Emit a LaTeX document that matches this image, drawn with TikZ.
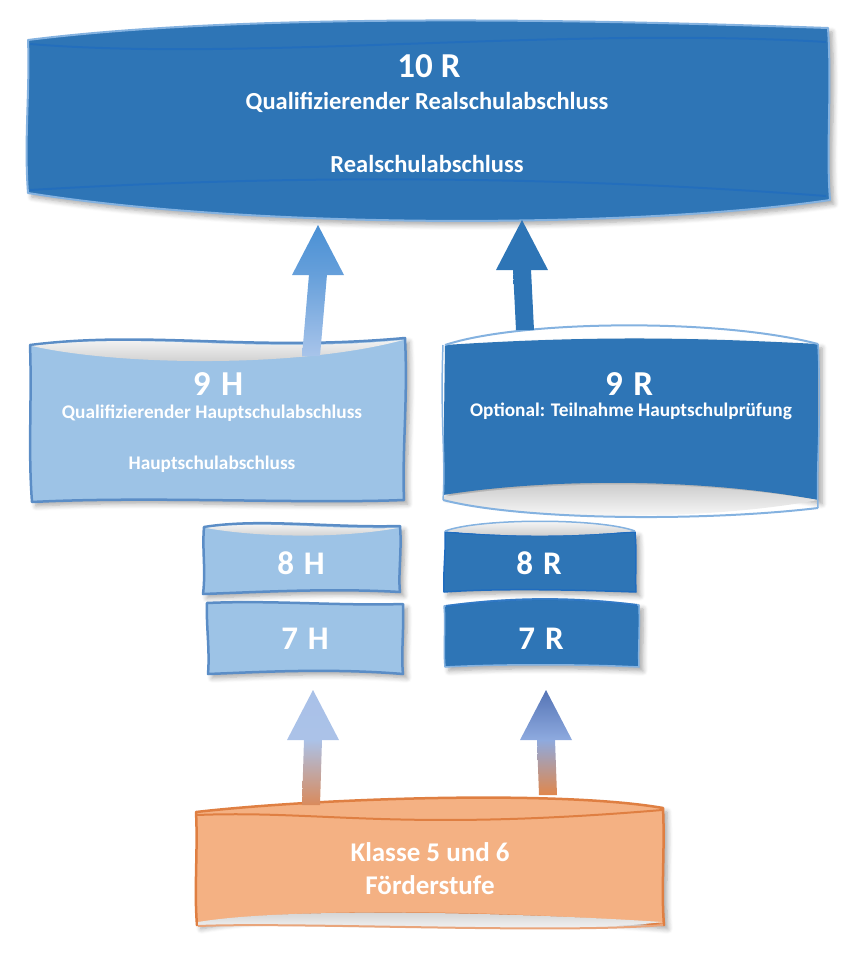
\documentclass[tikz,border=0pt]{standalone}
\usepackage{fontspec}
\setmainfont{Carlito}
\usetikzlibrary{calc,shadows.blur}
\definecolor{dblue}{HTML}{2E75B6}
\definecolor{dblueline}{HTML}{1F6CBF}
\definecolor{lblue}{HTML}{9DC3E6}
\definecolor{lblueedge}{HTML}{5B8DC6}
\definecolor{pedge}{HTML}{84B2E0}
\definecolor{orfill}{HTML}{F4B183}
\definecolor{oredge}{HTML}{DF7F42}
\definecolor{aupL}{HTML}{4A90D4}
\definecolor{alowL}{HTML}{A8C4EA}
\definecolor{aupR}{HTML}{2E75B6}
\definecolor{bupL}{HTML}{A9C1E8}
\definecolor{bmidL}{HTML}{ABC2E8}
\definecolor{bupR}{HTML}{5574B5}
\definecolor{bmidR}{HTML}{8EAADF}
\definecolor{borL}{HTML}{D98A5C}
\definecolor{borR}{HTML}{E0874C}
\tikzset{
  lab/.style={text=white, align=center, inner sep=0pt},
  bshadow/.style={blur shadow={shadow xshift=4pt, shadow yshift=-4pt, shadow blur steps=6, shadow opacity=35, shadow blur radius=5pt}},
  darkbox/.style={fill=dblue, draw=pedge, line width=2pt, line join=round},
  lightbox/.style={fill=lblue, draw=lblueedge, line width=2.5pt, line join=round},
  orbox/.style={fill=orfill, draw=oredge, line width=2.5pt, line join=round},
  lens/.style={top color=white, bottom color=black!22},
  lensup/.style={bottom color=white, top color=black!22},
  inner/.style={line width=2pt, draw opacity=0.7},
  bigt/.style={lab,font=\bfseries\fontsize{35}{40}\selectfont},
  midt/.style={lab,font=\bfseries\fontsize{19.3}{23}\selectfont},
}
% #1 start, #2 tip, #3 head top colour, #4 head base colour, #5 shaft bottom colour
\newcommand\blockarrow[5]{%
  \shade[top color=#4, bottom color=#5]
    ($(#2)+(9,49.5)$) -- ($(#1)+(9,0)$) -- ($(#1)+(-9,0)$) -- ($(#2)+(-9,49.5)$) -- cycle;
  \shade[top color=#3, bottom color=#4]
    (#2) -- ($(#2)+(26,50)$) -- ($(#2)+(-26,50)$) -- cycle;}
\begin{document}
\begin{tikzpicture}[x=1pt,y=-1pt]
\useasboundingbox (0,0) rectangle (864,974);

% ---------- 10 R ----------
\path[darkbox,bshadow] (28,40) .. controls (250,12) and (600,20) .. (828,28)
  .. controls (832,90) and (826,150) .. (830,200)
  .. controls (640,228) and (260,230) .. (28,193)
  .. controls (24,140) and (30,90) .. (28,40) -- cycle;
\draw[dblueline,inner] (30,44) .. controls (250,62) and (560,26) .. (826,42);
\draw[dblueline,inner] (30,190) .. controls (300,174) and (560,176) .. (826,196);
\node[bigt] (t10) at (429,66) {10 R};
\node[lab,font=\bfseries\fontsize{24.5}{28}\selectfont] (t10a) at (427,102) {Qualifizierender Realschulabschluss};
\node[lab,font=\bfseries\fontsize{24.5}{28}\selectfont] (t10b) at (427,164) {Realschulabschluss};

% ---------- 9 H ----------
\path[lightbox,bshadow] (30,345) .. controls (150,330) and (250,352) .. (405,338)
  .. controls (408,400) and (402,450) .. (404,500)
  .. controls (300,504) and (150,496) .. (32,502)
  .. controls (28,450) and (32,400) .. (30,345) -- cycle;
\shade[lens] (32,346) .. controls (150,332) and (250,354) .. (403,340)
  .. controls (300,368) and (120,366) .. (32,346) -- cycle;
\node[bigt] (t9h) at (218,384) {9\hspace{0.3em}H};
\node[midt] (t9ha) at (212,413) {Qualifizierender Hauptschulabschluss};
\node[midt] (t9hb) at (212,464) {Hauptschulabschluss};

% ---------- 9 R ----------
\path[bshadow,fill=dblue] (445,345) .. controls (600,335) and (700,338) .. (818,344)
  -- (818,500) .. controls (700,478) and (550,478) .. (443,495) -- cycle;
\draw[pedge,line width=2pt] (445,345) .. controls (520,320) and (720,318) .. (818,344);
\shade[lensup] (443,497) .. controls (550,480) and (700,480) .. (818,500)
  .. controls (700,522) and (520,520) .. (443,500) -- cycle;
\draw[pedge,line width=2pt] (443,500) .. controls (520,520) and (700,522) .. (818,508);
\draw[pedge,line width=1.5pt] (443,345) .. controls (440,420) and (446,460) .. (443,500);
\draw[pedge,line width=1.5pt] (818,344) .. controls (822,420) and (816,460) .. (818,508);
\node[bigt] (t9r) at (629,384) {9\hspace{0.3em}R};
\node[midt] (t9ra) at (631,411) {Optional: Teilnahme Hauptschulprüfung};

% ---------- 8 H ----------
\path[lightbox,bshadow] (204,527) .. controls (260,518) and (330,528) .. (400,526)
  .. controls (402,550) and (398,575) .. (400,592)
  .. controls (330,588) and (260,592) .. (203,594)
  .. controls (206,570) and (202,550) .. (204,527) -- cycle;
\shade[lens] (206,528) .. controls (260,520) and (330,530) .. (398,528)
  .. controls (330,540) and (250,536) .. (206,528) -- cycle;
\node[lab,font=\bfseries\fontsize{33}{36}\selectfont] (t8h) at (301,563) {8\hspace{0.3em}H};

% ---------- 7 H ----------
\path[lightbox,bshadow] (207,603) .. controls (270,600) and (340,606) .. (403,604)
  .. controls (404,630) and (401,655) .. (403,674)
  .. controls (330,668) and (260,672) .. (208,674)
  .. controls (210,650) and (206,625) .. (207,603) -- cycle;
\node[lab,font=\bfseries\fontsize{33}{36}\selectfont] (t7h) at (305,639) {7\hspace{0.3em}H};

% ---------- 8 R ----------
\path[darkbox,bshadow,draw=dblueline,line width=1.5pt] (445,532) .. controls (520,538) and (580,535) .. (635,532)
  .. controls (637,555) and (635,575) .. (636,592)
  .. controls (580,590) and (500,588) .. (444,592)
  .. controls (443,570) and (446,550) .. (445,532) -- cycle;
\shade[lens] (445,531) .. controls (480,518) and (600,518) .. (635,531)
  .. controls (580,536) and (520,538) .. (445,531) -- cycle;
\draw[pedge,line width=1.5pt] (445,531) .. controls (480,518) and (600,518) .. (635,531);
\node[lab,font=\bfseries\fontsize{33}{36}\selectfont] (t8r) at (539,563) {8\hspace{0.3em}R};

% ---------- 7 R ----------
\path[darkbox,bshadow,draw=pedge,line width=1.5pt] (444,606) .. controls (520,596) and (580,598) .. (639,605)
  .. controls (640,630) and (638,650) .. (639,667)
  .. controls (580,664) and (500,664) .. (445,667)
  .. controls (443,645) and (446,625) .. (444,606) -- cycle;
\draw[dblueline,line width=2pt,draw opacity=0.8] (446,606) .. controls (520,596) and (580,598) .. (637,605);
\node[lab,font=\bfseries\fontsize{33}{36}\selectfont] (t7r) at (541,639) {7\hspace{0.3em}R};

% ---------- Förderstufe ----------
\path[orbox,bshadow] (196,812) .. controls (320,798) and (560,790) .. (663,808)
  .. controls (665,850) and (661,890) .. (664,925)
  .. controls (560,915) and (300,905) .. (197,925)
  .. controls (194,890) and (198,850) .. (196,812) -- cycle;
\draw[oredge,line width=2pt] (197,815) .. controls (320,810) and (400,832) .. (662,810);
\shade[lensup] (198,922) .. controls (300,905) and (560,915) .. (662,922)
  .. controls (560,935) and (300,925) .. (198,925) -- cycle;
\draw[oredge!70,line width=2pt] (198,926) .. controls (300,922) and (560,934) .. (663,925);
\node[lab,font=\bfseries\fontsize{27}{33}\selectfont] (tk) at (430,869) {Klasse 5 und 6\\Förderstufe};

% ---------- arrows ----------
\coordinate (a1s) at (311,356); \coordinate (a1e) at (318,225);
\coordinate (a2s) at (525,330); \coordinate (a2e) at (522,220);
\coordinate (a3s) at (311,805); \coordinate (a3e) at (313,690);
\coordinate (a4s) at (548,795); \coordinate (a4e) at (546,690);
\blockarrow{a1s}{a1e}{aupL}{aupL!70!alowL}{alowL}
\blockarrow{a2s}{a2e}{aupR}{aupR}{aupR}
\blockarrow{a3s}{a3e}{bupL}{bmidL}{borL}
\blockarrow{a4s}{a4e}{bupR}{bmidR}{borR}
\end{tikzpicture}
\end{document}
